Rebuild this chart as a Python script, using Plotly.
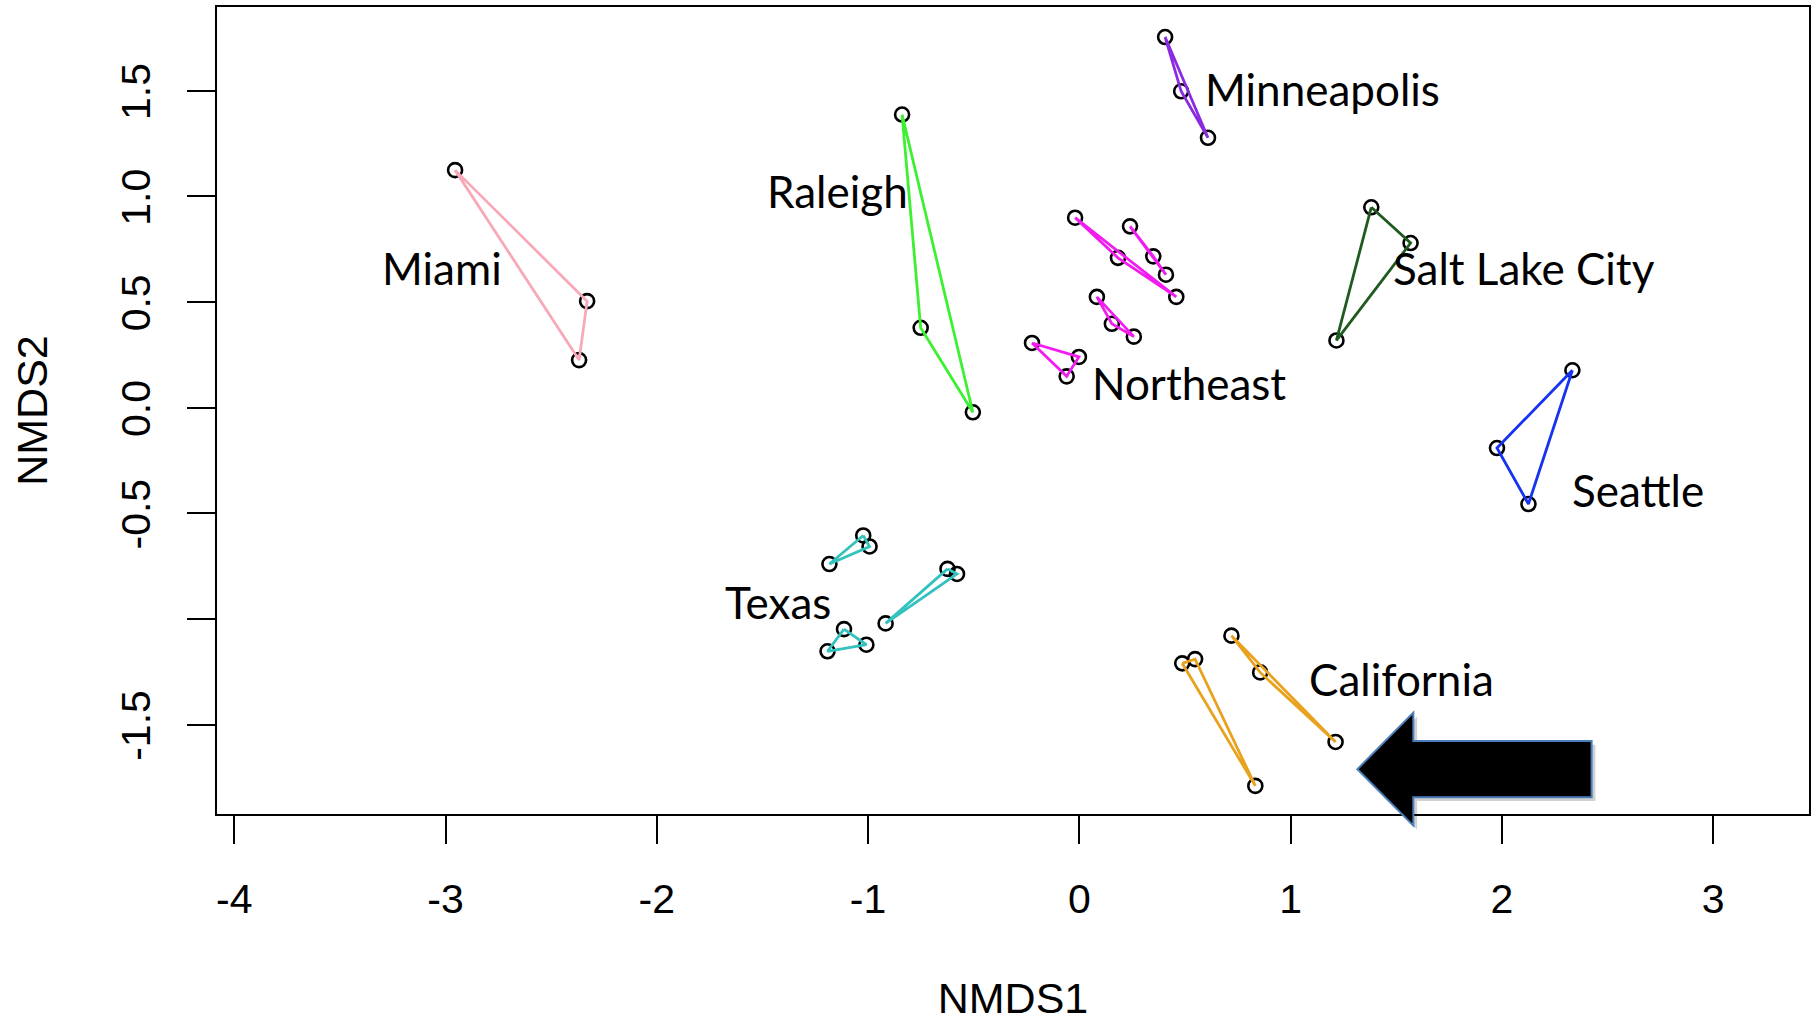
import plotly.graph_objects as go

# ---------------- data (NMDS scores) ----------------
miami_x = [[-2.955, -2.330, -2.368]]
miami_y = [[1.124, 0.504, 0.225]]

raleigh_x = [[-0.839, -0.751, -0.504]]
raleigh_y = [[1.387, 0.378, -0.022]]

minneapolis_x = [[0.406, 0.482, 0.609]]
minneapolis_y = [[1.754, 1.497, 1.277]]

northeast_x = [[-0.02, 0.183, 0.459],
               [0.240, 0.350, 0.410],
               [0.083, 0.154, 0.258],
               [-0.224, -0.002, -0.060]]
northeast_y = [[0.899, 0.709, 0.524],
               [0.858, 0.716, 0.629],
               [0.524, 0.397, 0.336],
               [0.306, 0.240, 0.148]]

saltlake_x = [[1.382, 1.568, 1.217]]
saltlake_y = [[0.948, 0.779, 0.318]]

seattle_x = [[2.334, 1.977, 2.126]]
seattle_y = [[0.177, -0.191, -0.456]]

texas_x = [[-1.023, -0.993, -1.183],
           [-0.624, -0.579, -0.917],
           [-1.114, -1.008, -1.192]]
texas_y = [[-0.605, -0.657, -0.740],
           [-0.763, -0.787, -1.021],
           [-1.048, -1.122, -1.153]]

california_x = [[0.720, 0.856, 1.213],
                [0.487, 0.548, 0.833]]
california_y = [[-1.079, -1.253, -1.582],
                [-1.210, -1.190, -1.790]]

group_names = ["Miami", "Raleigh", "Minneapolis", "Northeast",
               "Salt Lake City", "Seattle", "Texas", "California"]
group_x = [miami_x, raleigh_x, minneapolis_x, northeast_x,
           saltlake_x, seattle_x, texas_x, california_x]
group_y = [miami_y, raleigh_y, minneapolis_y, northeast_y,
           saltlake_y, seattle_y, texas_y, california_y]

x_ticks = [-4, -3, -2, -1, 0, 1, 2, 3]
y_ticks = [1.5, 1.0, 0.5, 0.0, -0.5, -1.0, -1.5]
y_tick_text = ["1.5", "1.0", "0.5", "0.0", "-0.5", "", "-1.5"]

# ---------------- styling ----------------
group_colors = ["#F8A9B7", "#3EF032", "#8A2BE2", "#F21CF0",
                "#1F5A1F", "#1633F0", "#33C2BE", "#E8A21E"]

label_pos = {
    "Miami": (-3.015, 0.663),
    "Raleigh": (-1.146, 1.025),
    "Minneapolis": (1.151, 1.508),
    "Northeast": (0.521, 0.115),
    "Salt Lake City": (2.105, 0.663),
    "Seattle": (2.643, -0.389),
    "Texas": (-1.425, -0.921),
    "California": (1.524, -1.283),
}

XR = [-4.082, 3.454]
YR = [-1.923, 1.896]

fig = go.Figure()

# points (open circles)
for name, gx, gy in zip(group_names, group_x, group_y):
    xs = [v for sub in gx for v in sub]
    ys = [v for sub in gy for v in sub]
    fig.add_trace(go.Scatter(
        x=xs, y=ys, mode="markers", name=name, showlegend=False,
        marker=dict(symbol="circle-open", size=14, color="black",
                    line=dict(width=2.6, color="black")),
        hoverinfo="x+y+name"))

# hulls
for name, gx, gy, col in zip(group_names, group_x, group_y, group_colors):
    for sx, sy in zip(gx, gy):
        fig.add_trace(go.Scatter(
            x=list(sx) + [sx[0]], y=list(sy) + [sy[0]],
            mode="lines", showlegend=False, name=name,
            line=dict(color=col, width=2.8), hoverinfo="skip"))

# group labels
for name in group_names:
    lx, ly = label_pos[name]
    fig.add_annotation(x=lx, y=ly, text=name, showarrow=False,
                       xanchor="center", yanchor="middle",
                       font=dict(family="Lato, Carlito, sans-serif", size=44, color="black"))

# arrow (decoration) defined in data units, drawn in paper coords
arrow_data = [(1.316, -1.711), (1.581, -1.443), (1.581, -1.577), (2.425, -1.577),
              (2.425, -1.844), (1.581, -1.844), (1.581, -1.978)]


def to_paper(px, py, dx=0.0, dy=0.0):
    return ((px + dx - XR[0]) / (XR[1] - XR[0]),
            (py + dy - YR[0]) / (YR[1] - YR[0]))


def arrow_path(dx=0.0, dy=0.0):
    pts = [to_paper(px, py, dx, dy) for px, py in arrow_data]
    return "M " + " L ".join(f"{a:.5f},{b:.5f}" for a, b in pts) + " Z"


fig.add_shape(type="path", xref="paper", yref="paper", path=arrow_path(0.018, -0.018),
              fillcolor="rgba(0,0,0,0.18)", line=dict(width=0), layer="above")
fig.add_shape(type="path", xref="paper", yref="paper", path=arrow_path(),
              fillcolor="black", line=dict(color="#4A7EBB", width=2), layer="above")

tick_font = dict(family="Liberation Sans, Arial, sans-serif", size=41, color="black")
title_font = dict(family="Liberation Sans, Arial, sans-serif", size=43, color="black")

fig.update_layout(
    width=1814, height=1022,
    margin=dict(l=217, r=5, t=7, b=208),
    paper_bgcolor="white", plot_bgcolor="white",
    showlegend=False,
    xaxis=dict(range=XR, tickmode="array", tickvals=x_ticks,
               ticktext=[str(v) for v in x_ticks],
               showgrid=False, zeroline=False, automargin=False,
               showline=True, linewidth=2, linecolor="black", mirror=True,
               ticks="outside", ticklen=28, tickwidth=2, tickcolor="black",
               tickfont=tick_font, ticklabelstandoff=20,
               title=dict(text="NMDS1", font=title_font, standoff=62)),
    yaxis=dict(range=YR, tickmode="array", tickvals=y_ticks, ticktext=y_tick_text,
               showgrid=False, zeroline=False, automargin=False,
               showline=True, linewidth=2, linecolor="black", mirror=True,
               ticks="outside", ticklen=28, tickwidth=2, tickcolor="black",
               tickfont=tick_font, tickangle=-90, ticklabelstandoff=21,
               ticklabelshift=7,
               title=dict(text="NMDS2", font=title_font, standoff=52)),
)

fig.write_html("out.html", config={"displayModeBar": False},
               post_script="document.body.style.margin='0';")
